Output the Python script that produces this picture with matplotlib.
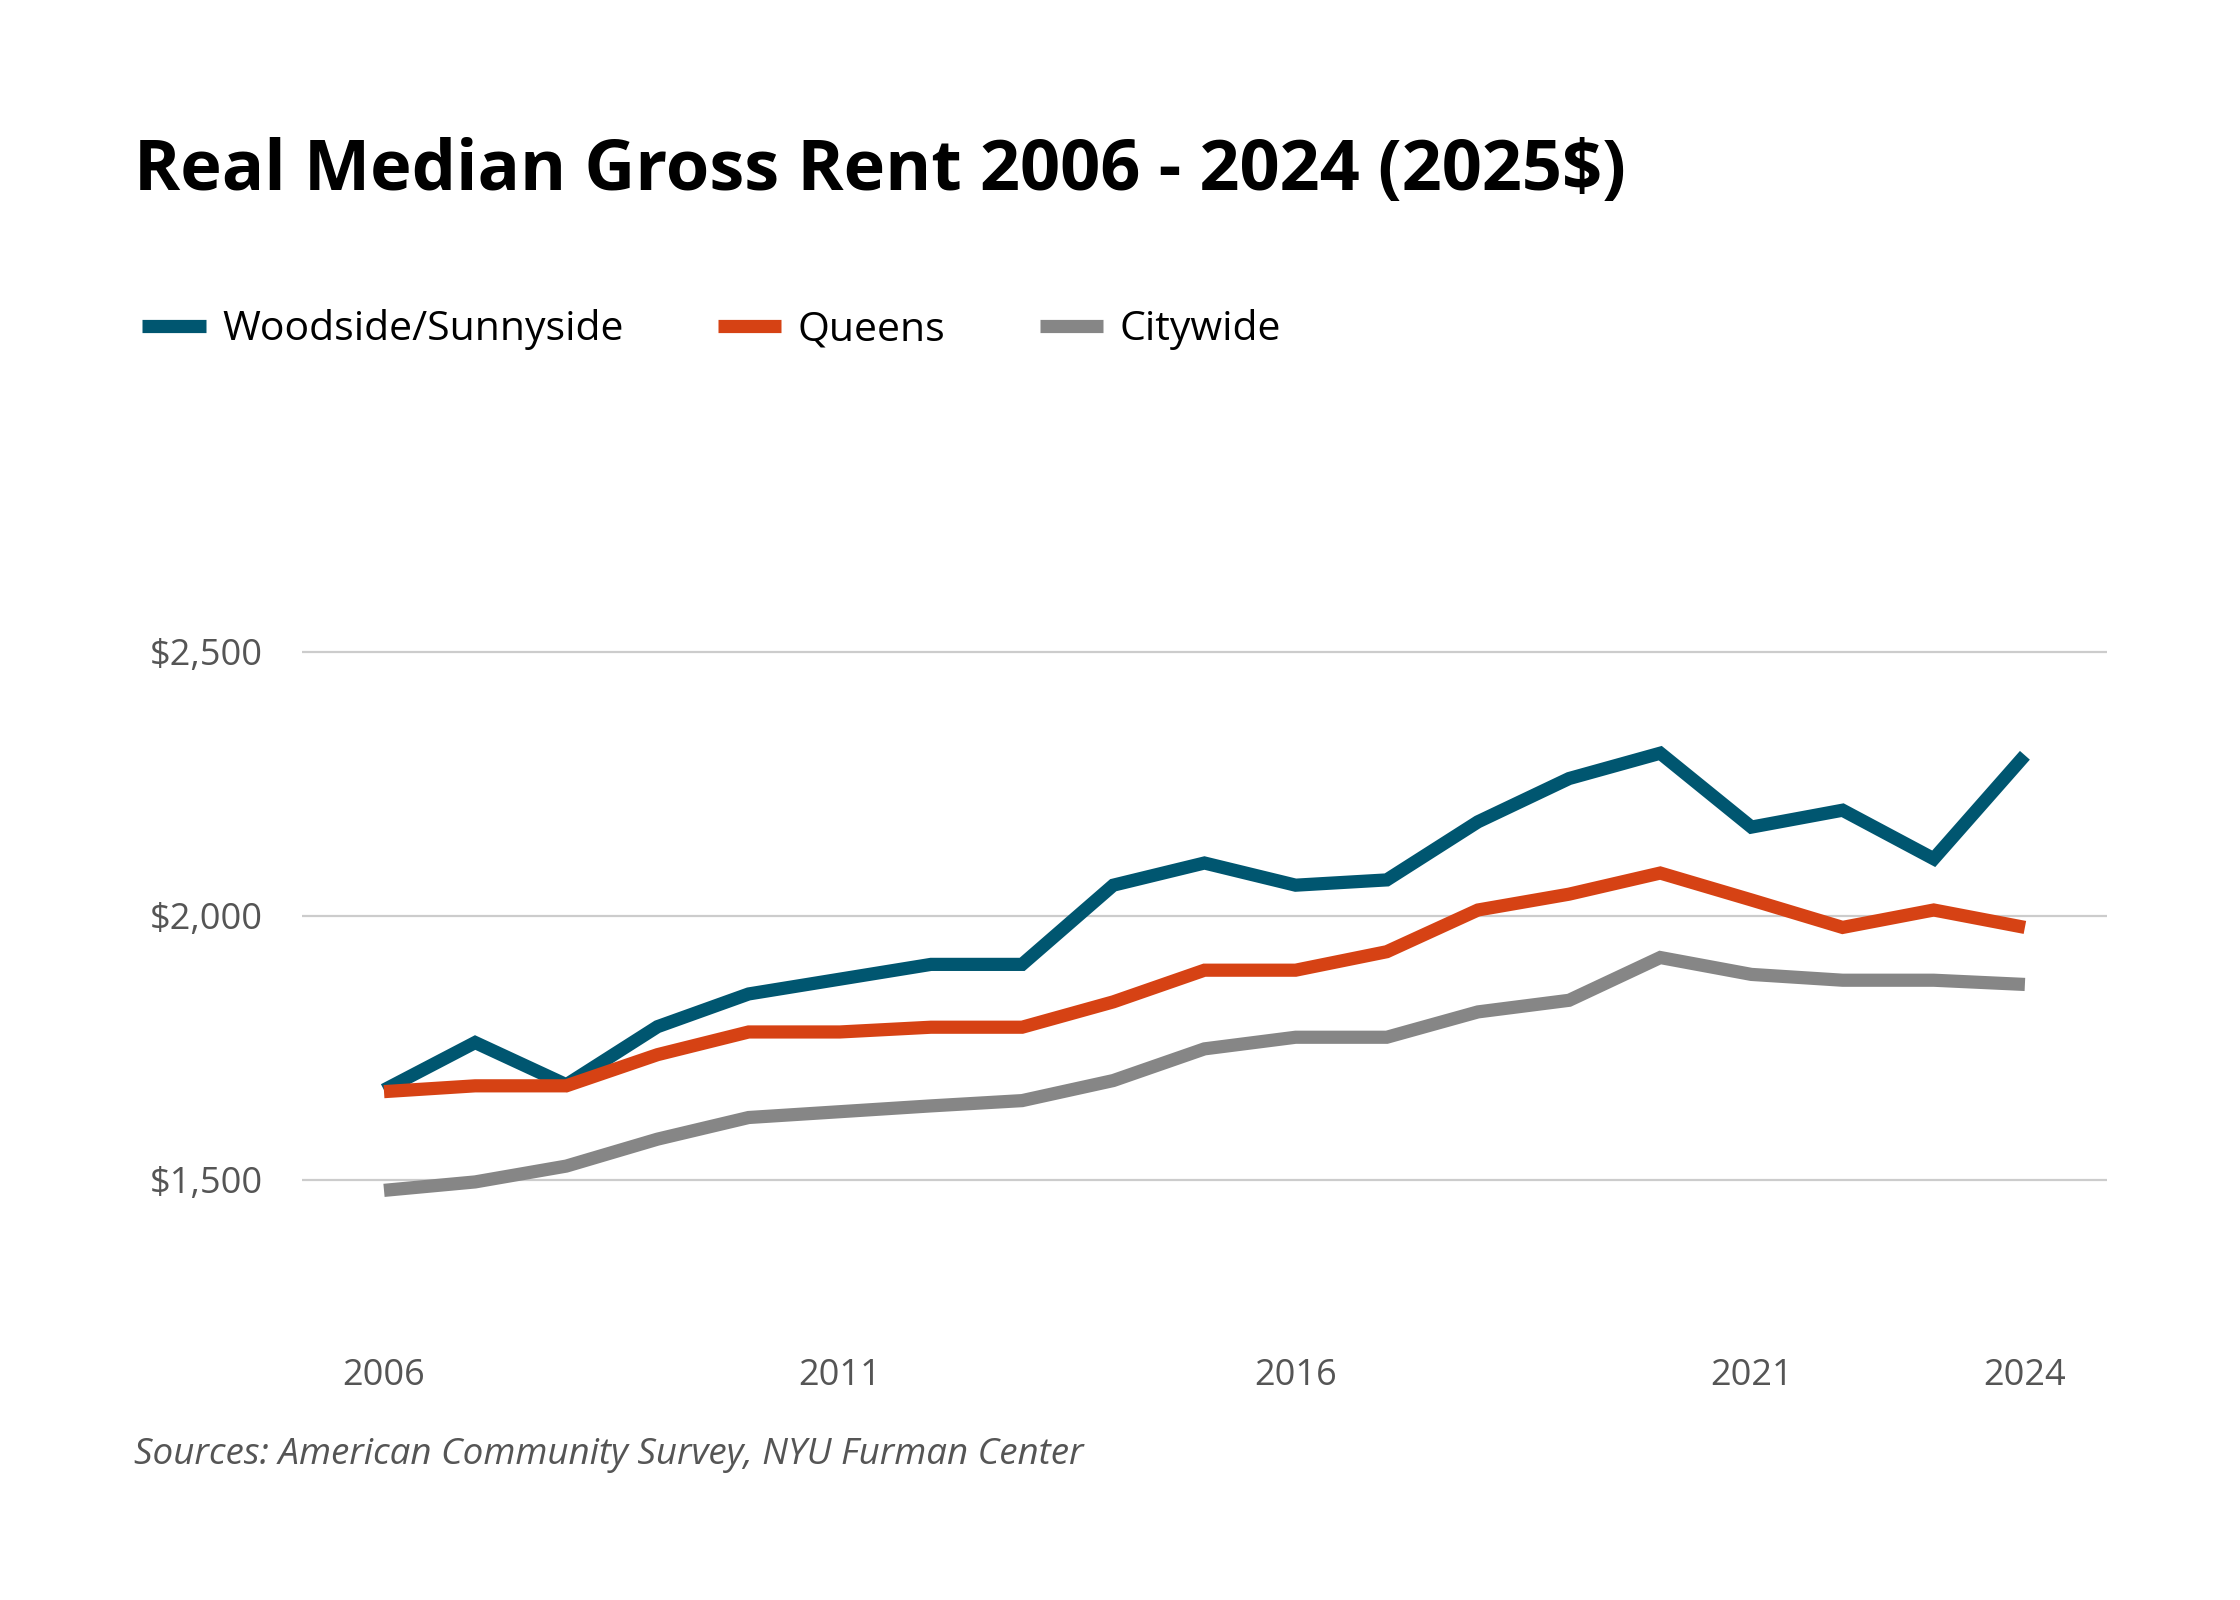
import matplotlib
matplotlib.use("Agg")
import matplotlib.pyplot as plt
from matplotlib.ticker import FuncFormatter

# data (2025 dollars)
years = list(range(2006, 2025))
woodside = [1670, 1760, 1680, 1790, 1852, 1880, 1908, 1908, 2058, 2100,
            2058, 2068, 2178, 2260, 2308, 2168, 2200, 2108, 2304]
queens = [1667, 1678, 1678, 1737, 1780, 1780, 1789, 1789, 1837, 1897,
          1897, 1932, 2011, 2041, 2081, 2030, 1978, 2011, 1978]
citywide = [1480, 1496, 1526, 1577, 1618, 1629, 1640, 1650, 1688, 1748,
            1770, 1770, 1818, 1840, 1921, 1889, 1878, 1878, 1870]
series_names = ["Woodside/Sunnyside", "Queens", "Citywide"]
colors = ["#005670", "#d64214", "#868686"]
xticks = [2006, 2011, 2016, 2021, 2024]
yticks = [1500, 2000, 2500]

plt.rcParams['font.family'] = ['Open Sans', 'DejaVu Sans']

fig = plt.figure(figsize=(22.4, 16), dpi=100)
ax = fig.add_axes([0.1348, 0.159, 0.8058, 0.6006])

for vals, name, c in zip([woodside, queens, citywide], series_names, colors):
    ax.plot(years, vals, color=c, lw=9.5, label=name, solid_joinstyle='miter',
            solid_capstyle='butt')

ax.set_xlim(2005.1, 2024.9)
ax.set_ylim(1186, 3006)
ax.set_yticks(yticks)
ax.yaxis.set_major_formatter(FuncFormatter(lambda v, p: f"${v:,.0f}"))
ax.set_xticks(xticks)
ax.grid(axis='y', color='#cccccc', lw=1.6)
ax.set_axisbelow(True)
for s in ax.spines.values():
    s.set_visible(False)
ax.tick_params(axis='both', length=0, labelsize=26, colors='#555555')
ax.tick_params(axis='y', pad=28)
ax.tick_params(axis='x', pad=9)

fig.text(0.06, 0.881, "Real Median Gross Rent 2006 - 2024 (2025$)",
         fontsize=50.6, fontweight='bold', color='black', va='baseline')

leg = fig.legend(loc='center left', bbox_to_anchor=(0.047, 0.794), ncol=3,
                 frameon=False, fontsize=29.5, handlelength=1.55, handletextpad=0.4,
                 columnspacing=2.3)
for line in leg.get_lines():
    line.set_linewidth(9.5)

fig.text(0.06, 0.085, "Sources: American Community Survey, NYU Furman Center",
         fontsize=26.5, style='italic', color='#555555', va='baseline')

fig.savefig("out.png", dpi=100, facecolor='white')
